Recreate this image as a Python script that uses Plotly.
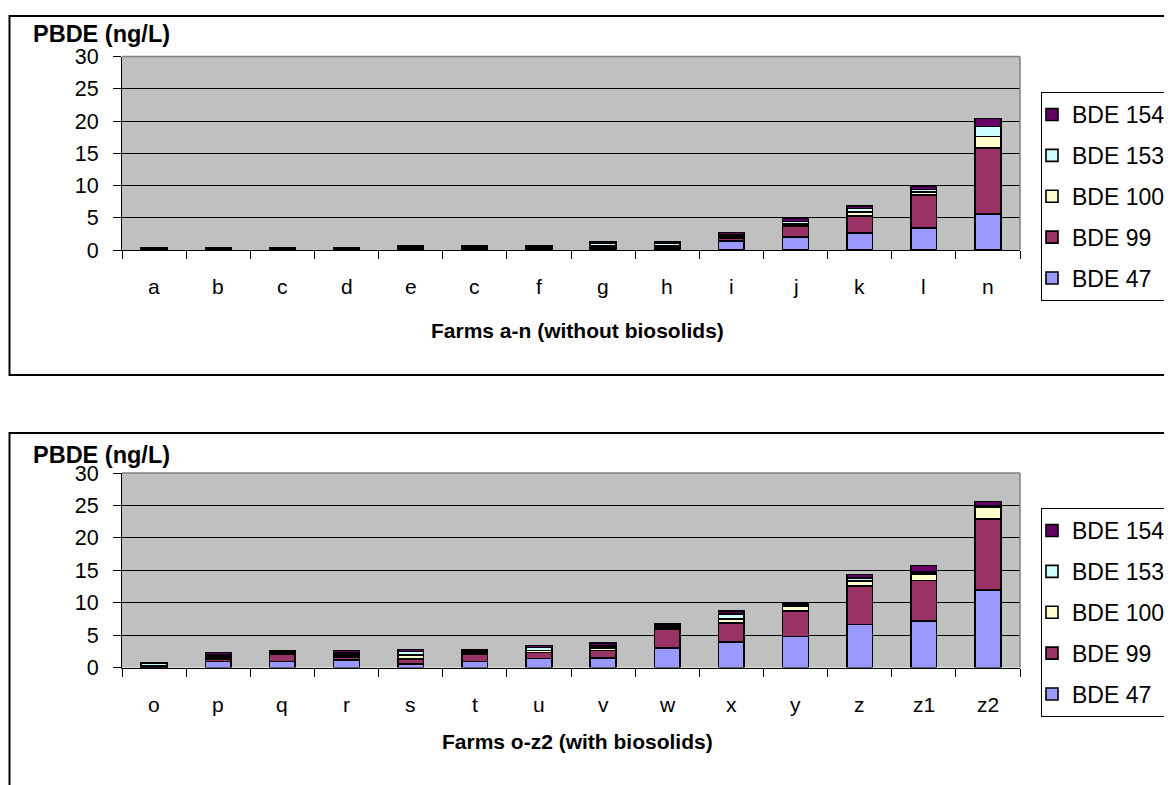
import plotly.graph_objects as go

W, H = 1172, 785
OFF = 8  # default page body margin

top_farms = ["a", "b", "c", "d", "e", "c", "f", "g", "h", "i", "j", "k", "l", "n"]
bottom_farms = ["o", "p", "q", "r", "s", "t", "u", "v", "w", "x", "y", "z", "z1", "z2"]

series_names = ["BDE 47", "BDE 99", "BDE 100", "BDE 153", "BDE 154"]
series_colors = ["#9999FF", "#993366", "#FFFFCC", "#CCFFFF", "#660066"]

top_bde47 = [0.05, 0.05, 0.05, 0.05, 0.1, 0.1, 0.1, 0.2, 0.2, 1.4, 2.05, 2.6, 3.45, 5.6]
top_bde99 = [0.05, 0.05, 0.05, 0.05, 0.1, 0.1, 0.1, 0.2, 0.2, 0.5, 1.65, 2.7, 5.05, 10.2]
top_bde100 = [0.05, 0.05, 0.05, 0.05, 0.1, 0.1, 0.1, 0.2, 0.2, 0.25, 0.35, 0.6, 0.45, 1.8]
top_bde153 = [0.1, 0.1, 0.1, 0.1, 0.2, 0.2, 0.2, 0.4, 0.4, 0.25, 0.35, 0.55, 0.45, 1.55]
top_bde154 = [0.1, 0.1, 0.1, 0.1, 0.15, 0.15, 0.15, 0.2, 0.2, 0.3, 0.5, 0.4, 0.5, 1.25]

bottom_bde47 = [0.05, 0.9, 0.9, 1.15, 0.55, 0.9, 1.4, 1.5, 3.0, 3.9, 4.8, 6.65, 7.2, 11.95]
bottom_bde99 = [0.05, 0.45, 1.1, 0.45, 0.8, 1.1, 0.9, 1.15, 2.95, 2.95, 3.9, 5.95, 6.2, 11.0]
bottom_bde100 = [0.1, 0.3, 0.2, 0.3, 0.55, 0.25, 0.3, 0.35, 0.25, 0.6, 0.75, 0.75, 1.0, 1.8]
bottom_bde153 = [0.5, 0.3, 0.2, 0.3, 0.55, 0.25, 0.5, 0.35, 0.2, 0.8, 0.2, 0.5, 0.3, 0.25]
bottom_bde154 = [0.05, 0.35, 0.2, 0.4, 0.3, 0.3, 0.3, 0.4, 0.3, 0.5, 0.2, 0.5, 1.05, 0.6]

y_ticks = [0, 5, 10, 15, 20, 25, 30]
y_title = "PBDE (ng/L)"
top_x_title = "Farms a-n (without biosolids)"
bottom_x_title = "Farms o-z2 (with biosolids)"

top_series = [top_bde47, top_bde99, top_bde100, top_bde153, top_bde154]
bottom_series = [bottom_bde47, bottom_bde99, bottom_bde100, bottom_bde153, bottom_bde154]

FONT = "Liberation Sans, Arial, sans-serif"


def px_x(p):
    return (p - OFF) / W


def px_y(p):
    return 1 - (p - OFF) / H


fig = go.Figure()
top_pos = list(range(len(top_farms)))
bot_pos = list(range(len(bottom_farms)))
n_series = len(series_names)

for i, (name, color, vals) in enumerate(zip(series_names, series_colors, top_series)):
    fig.add_trace(go.Bar(x=top_pos, y=vals, name=name,
                         marker=dict(color=color, line=dict(color="black", width=1.6)),
                         xaxis="x", yaxis="y", legend="legend", legendgroup="t" + name,
                         legendrank=n_series - i))
for i, (name, color, vals) in enumerate(zip(series_names, series_colors, bottom_series)):
    fig.add_trace(go.Bar(x=bot_pos, y=vals, name=name,
                         marker=dict(color=color, line=dict(color="black", width=1.6)),
                         xaxis="x2", yaxis="y2", legend="legend2", legendgroup="b" + name,
                         legendrank=n_series - i))


def xaxis_cfg(labels, anchor):
    return dict(
        domain=[px_x(122), px_x(1020)], anchor=anchor,
        range=[-0.5, len(labels) - 0.5],
        tickmode="array", tickvals=list(range(len(labels))), ticktext=labels,
        ticks="", showticklabels=False, showgrid=False, zeroline=False,
        showline=True, linecolor="black", linewidth=1,
        minor=dict(tickmode="linear", tick0=-0.5, dtick=1, ticks="outside", ticklen=8,
                   tickcolor="black", tickwidth=1, showgrid=False),
        fixedrange=True,
    )


def yaxis_cfg(dom, anchor):
    return dict(
        domain=dom, anchor=anchor, range=[0, 30],
        tickmode="array", tickvals=y_ticks,
        ticks="outside", ticklen=8, tickcolor="black", tickwidth=1,
        showgrid=True, gridcolor="black", gridwidth=1,
        zeroline=False, showline=True, linecolor="black", linewidth=1,
        tickfont=dict(family=FONT, size=21.5, color="black"),
        ticklabelstandoff=10,
        fixedrange=True,
    )


legend_common = dict(
    xanchor="left", yanchor="top", bgcolor="white", bordercolor="black", borderwidth=1,
    font=dict(family=FONT, size=23, color="black"),
    traceorder="grouped", tracegroupgap=8, indentation=-10,
)

fig.update_layout(
    width=W, height=H,
    margin=dict(l=0, r=0, t=0, b=0, autoexpand=False),
    paper_bgcolor="white", plot_bgcolor="#C0C0C0",
    barmode="stack", bargap=0.6,
    font=dict(family=FONT, color="black"),
    xaxis=xaxis_cfg(top_farms, "y"),
    yaxis=yaxis_cfg([px_y(250), px_y(56.5)], "x"),
    xaxis2=xaxis_cfg(bottom_farms, "y2"),
    yaxis2=yaxis_cfg([px_y(667.5), px_y(473)], "x2"),
    legend=dict(x=px_x(1041), y=px_y(92), **legend_common),
    legend2=dict(x=px_x(1041), y=px_y(508), **legend_common),
    showlegend=True,
)

FRAME_LEFT = 9.5
shapes = [
    dict(type="rect", xref="paper", yref="paper", x0=px_x(FRAME_LEFT), x1=1.05, y0=px_y(375), y1=px_y(16),
         line=dict(color="black", width=2), fillcolor="rgba(0,0,0,0)", layer="below"),
    dict(type="rect", xref="paper", yref="paper", x0=px_x(FRAME_LEFT), x1=1.05, y0=-0.05, y1=px_y(433),
         line=dict(color="black", width=2), fillcolor="rgba(0,0,0,0)", layer="below"),
]
for xr, yr in [("x", "y"), ("x2", "y2")]:
    shapes.append(dict(type="line", xref=xr + " domain", yref=yr + " domain", x0=0, x1=1, y0=1, y1=1,
                       line=dict(color="#808080", width=1.5), layer="above"))
    shapes.append(dict(type="line", xref=xr + " domain", yref=yr + " domain", x0=1, x1=1, y0=0, y1=1,
                       line=dict(color="#808080", width=1.5), layer="above"))
fig.update_layout(shapes=shapes)

annotations = [
    dict(text="<b>" + y_title + "</b>", xref="paper", yref="paper", x=px_x(31), y=px_y(34),
         xanchor="left", yanchor="middle", showarrow=False, font=dict(family=FONT, size=23.5, color="black")),
    dict(text="<b>" + y_title + "</b>", xref="paper", yref="paper", x=px_x(31), y=px_y(455),
         xanchor="left", yanchor="middle", showarrow=False, font=dict(family=FONT, size=23.5, color="black")),
    dict(text="<b>" + top_x_title + "</b>", xref="x domain", yref="paper", x=0.5, y=px_y(330), xshift=6,
         xanchor="center", yanchor="middle", showarrow=False, font=dict(family=FONT, size=21, color="black")),
    dict(text="<b>" + bottom_x_title + "</b>", xref="x2 domain", yref="paper", x=0.5, y=px_y(741), xshift=6,
         xanchor="center", yanchor="middle", showarrow=False, font=dict(family=FONT, size=21, color="black")),
]
# category labels under each axis
for pos, lab in zip(top_pos, top_farms):
    annotations.append(dict(text=lab, xref="x", yref="paper", x=pos, y=px_y(287), xanchor="center",
                            yanchor="middle", showarrow=False, font=dict(family=FONT, size=21, color="black")))
for pos, lab in zip(bot_pos, bottom_farms):
    annotations.append(dict(text=lab, xref="x2", yref="paper", x=pos, y=px_y(704), xanchor="center",
                            yanchor="middle", showarrow=False, font=dict(family=FONT, size=21, color="black")))
fig.update_layout(annotations=annotations)

fig.write_html("out.html")
